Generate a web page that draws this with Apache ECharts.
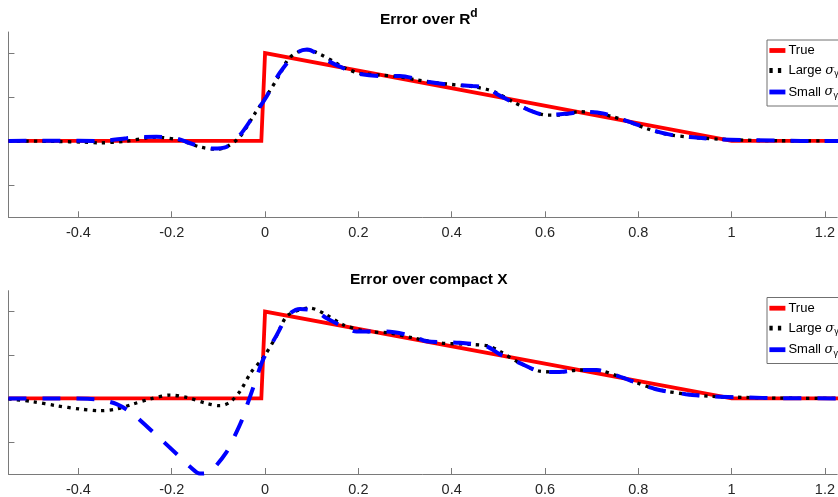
<!DOCTYPE html>
<html>
<head>
<meta charset="utf-8">
<script src="https://cdn.jsdelivr.net/npm/echarts@6/dist/echarts.min.js"></script>
<style>
  html, body { margin: 0; padding: 0; background: #fff; }
  #chart { width: 838px; height: 497px; }
</style>
</head>
<body>
<div id="chart"></div>
<script>
// Tick positions shared by both panels
const xTicks = [-0.4, -0.2, 0, 0.2, 0.4, 0.6, 0.8, 1, 1.2];
const yTicks = [-0.5, 0, 0.5, 1];

// Target function: zero left of the origin, unit jump, then linear decay to zero at x = 1
const trueCurve = [[-0.55, 0], [-0.008, 0], [0, 1], [1, 0], [1.25, 0]];

// Panel 1 — error over R^d
const largeTop = [
  [-0.55, 0], [-0.45, -0.006], [-0.39, -0.014], [-0.354, -0.022], [-0.3, -0.004],
  [-0.254, 0.034], [-0.233, 0.042], [-0.183, 0.008], [-0.14, -0.069], [-0.104, -0.095],
  [-0.083, -0.07], [-0.054, 0.046], [-0.022, 0.31], [0, 0.485], [0.031, 0.75],
  [0.053, 0.95], [0.089, 1.04], [0.117, 0.99], [0.153, 0.885], [0.171, 0.83],
  [0.203, 0.77], [0.246, 0.75], [0.289, 0.73], [0.324, 0.695], [0.374, 0.657],
  [0.445, 0.618], [0.474, 0.588], [0.495, 0.55], [0.531, 0.446], [0.567, 0.35],
  [0.603, 0.294], [0.631, 0.294], [0.674, 0.332], [0.71, 0.32], [0.745, 0.275],
  [0.774, 0.229], [0.817, 0.142], [0.86, 0.077], [0.917, 0.039], [0.974, 0.02],
  [1.031, 0.008], [1.1, 0.002], [1.25, 0]
];
const smallTop = [
  [-0.55, 0], [-0.45, 0.003], [-0.35, 0], [-0.297, 0.03], [-0.26, 0.045],
  [-0.233, 0.046], [-0.19, 0.027], [-0.154, -0.038], [-0.111, -0.087], [-0.083, -0.069],
  [-0.054, 0.065], [-0.026, 0.275], [0.003, 0.503], [0.031, 0.771], [0.067, 1.0],
  [0.09, 1.04], [0.131, 0.923], [0.16, 0.847], [0.196, 0.77], [0.246, 0.74],
  [0.289, 0.74], [0.346, 0.675], [0.388, 0.645], [0.445, 0.625], [0.48, 0.6],
  [0.495, 0.54], [0.531, 0.44], [0.574, 0.332], [0.603, 0.294], [0.652, 0.313],
  [0.681, 0.332], [0.724, 0.313], [0.781, 0.217], [0.831, 0.122], [0.874, 0.065],
  [0.924, 0.039], [0.974, 0.016], [1.044, 0.008], [1.15, 0], [1.25, 0]
];

// Panel 2 — error over compact X
const largeBottom = [
  [-0.55, -0.005], [-0.497, -0.038], [-0.447, -0.084], [-0.397, -0.122], [-0.354, -0.141],
  [-0.318, -0.122], [-0.283, -0.065], [-0.247, -0.008], [-0.204, 0.038], [-0.168, 0.011],
  [-0.125, -0.057], [-0.097, -0.084], [-0.076, -0.046], [-0.054, 0.08], [-0.03, 0.3],
  [-0.004, 0.468], [0.024, 0.715], [0.046, 0.943], [0.074, 1.02], [0.096, 1.04],
  [0.131, 0.963], [0.167, 0.849], [0.217, 0.772], [0.267, 0.753], [0.317, 0.696],
  [0.374, 0.64], [0.445, 0.62], [0.481, 0.6], [0.503, 0.543], [0.545, 0.41],
  [0.588, 0.315], [0.631, 0.304], [0.674, 0.327], [0.71, 0.327], [0.752, 0.266],
  [0.795, 0.183], [0.838, 0.106], [0.902, 0.049], [0.959, 0.023], [1.031, 0.011],
  [1.1, 0.003], [1.25, 0]
];
const smallBottom = [
  [-0.55, 0], [-0.45, 0], [-0.38, -0.005], [-0.35, -0.02], [-0.318, -0.065],
  [-0.286, -0.167], [-0.24, -0.388], [-0.19, -0.636], [-0.16, -0.79], [-0.14, -0.865],
  [-0.125, -0.86], [-0.111, -0.81], [-0.083, -0.62], [-0.068, -0.465], [-0.05, -0.255],
  [-0.04, -0.1], [-0.025, 0.13], [-0.004, 0.449], [0.024, 0.72], [0.05, 0.96],
  [0.075, 1.03], [0.11, 1.0], [0.131, 0.925], [0.174, 0.81], [0.196, 0.77],
  [0.26, 0.77], [0.317, 0.715], [0.346, 0.658], [0.417, 0.64], [0.474, 0.6],
  [0.503, 0.51], [0.545, 0.41], [0.588, 0.315], [0.631, 0.304], [0.674, 0.327],
  [0.71, 0.327], [0.752, 0.266], [0.795, 0.183], [0.838, 0.106], [0.902, 0.049],
  [0.959, 0.023], [1.031, 0.011], [1.1, 0.003], [1.25, 0]
];

const FONT = '"Liberation Sans", Arial, Helvetica, sans-serif';
const AXIS_GREY = '#7a7a7a';
const TEXT_DARK = '#262626';
// The axes run on past the right edge of the page; the visible window ends near x = 1.226
const X_MIN = -0.55, X_MAX = 1.2263, Y_MIN = -0.87, Y_MAX = 1.24;

const NAMES = ['True', 'Large σγ', 'Small σγ'];

function xAxisFor(grid) {
  return {
    gridIndex: grid, type: 'value', min: X_MIN, max: X_MAX,
    axisLine: { onZero: false, lineStyle: { color: AXIS_GREY, width: 1 } },
    axisTick: { inside: true, length: 6, customValues: xTicks, lineStyle: { color: AXIS_GREY } },
    axisLabel: { customValues: xTicks, color: TEXT_DARK, fontSize: 14.5, fontFamily: FONT, margin: 8,
      showMinLabel: true, showMaxLabel: true },
    splitLine: { show: false }
  };
}
function yAxisFor(grid) {
  return {
    gridIndex: grid, type: 'value', min: Y_MIN, max: Y_MAX,
    axisLine: { show: true, onZero: false, lineStyle: { color: AXIS_GREY, width: 1 } },
    axisTick: { show: true, inside: true, length: 6, customValues: yTicks, lineStyle: { color: AXIS_GREY } },
    axisLabel: { show: false },
    splitLine: { show: false }
  };
}
function seriesFor(grid, large, small) {
  return [
    { name: NAMES[0], type: 'line', xAxisIndex: grid, yAxisIndex: grid, data: trueCurve,
      showSymbol: false, symbol: 'none',
      lineStyle: { color: '#ff0000', width: 3.8, cap: 'butt', join: 'miter' }, itemStyle: { color: '#ff0000' } },
    { name: NAMES[1], type: 'line', xAxisIndex: grid, yAxisIndex: grid, data: large,
      showSymbol: false, symbol: 'none', smooth: 0.3,
      lineStyle: { color: '#000000', width: 3.3, type: [3.3, 5.2], cap: 'butt' }, itemStyle: { color: '#000000' } },
    { name: NAMES[2], type: 'line', xAxisIndex: grid, yAxisIndex: grid, data: small,
      showSymbol: false, symbol: 'none', smooth: 0.3,
      lineStyle: { color: '#0000ff', width: 4, type: [18, 16], cap: 'butt' }, itemStyle: { color: '#0000ff' } }
  ];
}
function legendFor(top) {
  return {
    orient: 'vertical', left: 767, top: top, z: 10,
    data: NAMES,
    itemWidth: 16, itemHeight: 14, itemGap: 7,
    padding: [5, 0, 6, 0],
    borderWidth: 0, backgroundColor: 'transparent',
    lineStyle: { width: 4.8 },
    itemStyle: { opacity: 0, borderWidth: 0 },
    selectedMode: false,
    formatter: function (name) {
      if (name === 'True') return '{t|True}';
      return '{t|' + name.split(' ')[0] + ' }{g|σ}{s|γ}';
    },
    textStyle: {
      color: '#000', fontFamily: FONT, fontSize: 13,
      padding: [0, 0, 0, -2],
      rich: {
        t: { fontSize: 13, lineHeight: 16, fontFamily: FONT, color: '#000' },
        g: { fontSize: 13, lineHeight: 16, fontStyle: 'italic', fontFamily: 'DejaVu Serif', color: '#000' },
        s: { fontSize: 9, lineHeight: 9, verticalAlign: 'bottom', fontFamily: FONT, color: '#000' }
      }
    }
  };
}
// Legend frames continue past the right edge, like the axes
function legendFrame(y) {
  return {
    type: 'rect', z: 5, left: 766.5, top: y,
    shape: { x: 0, y: 0, width: 120, height: 66 },
    style: { fill: '#ffffff', stroke: '#707070', lineWidth: 1 }
  };
}
const titleRich = {
  m: { fontSize: 15.5, fontWeight: 'bold', lineHeight: 24, fontFamily: FONT, color: '#000' },
  sup: { fontSize: 12, fontWeight: 'bold', lineHeight: 12, verticalAlign: 'top', fontFamily: FONT, color: '#000' }
};

const chart = echarts.init(document.getElementById('chart'), null, { renderer: 'canvas' });
chart.setOption({
  animation: false,
  backgroundColor: '#ffffff',
  title: [
    { text: '{m|Error over R}{sup|d}', left: 428.8, top: 8, textAlign: 'center', padding: 0,
      textStyle: { rich: titleRich } },
    { text: '{m|Error over compact X}', left: 428.8, top: 267.5, textAlign: 'center', padding: 0,
      textStyle: { rich: titleRich } }
  ],
  grid: [
    { left: 8.45, top: 32, right: 0, height: 185.3, containLabel: false },
    { left: 8.45, top: 290.7, right: 0, height: 184.3, containLabel: false }
  ],
  xAxis: [xAxisFor(0), xAxisFor(1)],
  yAxis: [yAxisFor(0), yAxisFor(1)],
  graphic: [legendFrame(39.5), legendFrame(297)],
  legend: [legendFor(39), legendFor(296.7)],
  series: seriesFor(0, largeTop, smallTop).concat(seriesFor(1, largeBottom, smallBottom))
});
</script>
</body>
</html>
